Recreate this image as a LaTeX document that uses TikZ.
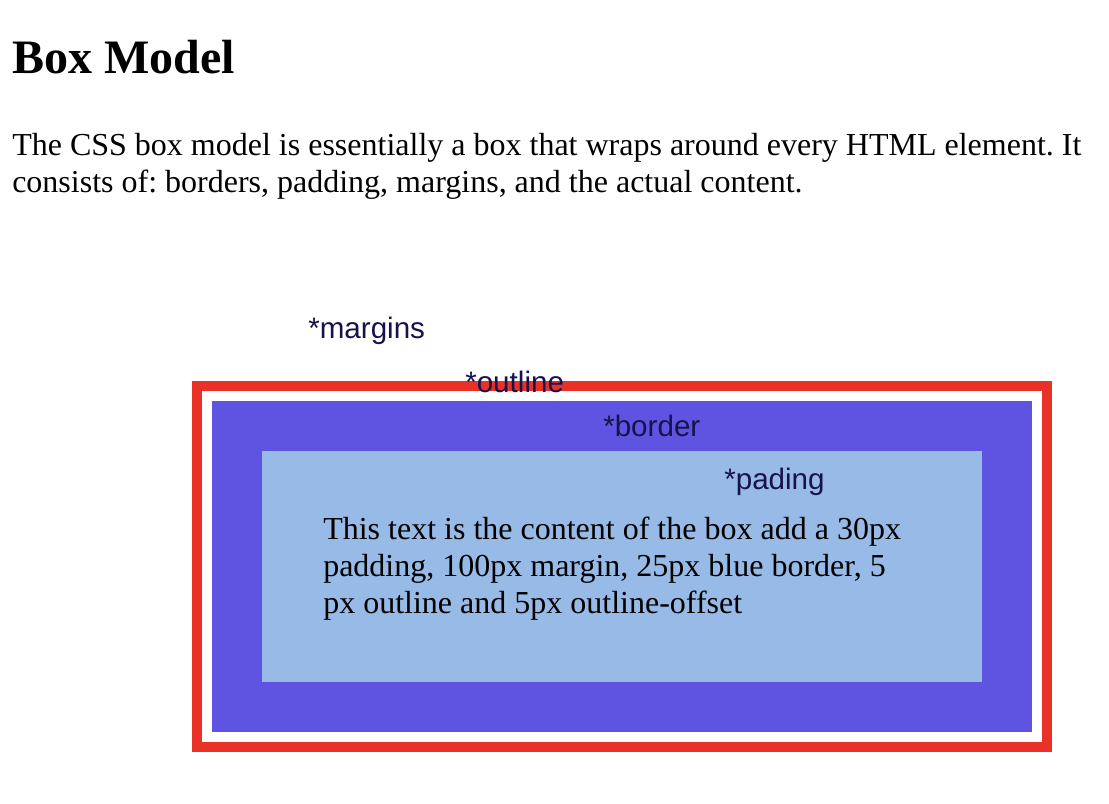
\documentclass[tikz,border=0pt]{standalone}
\usepackage{fontspec}
\setmainfont{Liberation Serif}
\newfontfamily\labelfont{Liberation Sans}
\frenchspacing
\definecolor{outlinered}{RGB}{232,50,40}
\definecolor{borderblue}{RGB}{95,84,226}
\definecolor{padblue}{RGB}{151,186,230}
\definecolor{labelnavy}{RGB}{24,18,76}
\tikzset{
  txt/.style={inner sep=0pt, anchor=base west},
  titletxt/.style={txt, font=\fontsize{36pt}{42pt}\selectfont\bfseries},
  bodytxt/.style={txt, font=\fontsize{24pt}{27.6pt}\selectfont},
  lbl/.style={txt, text=labelnavy, font=\labelfont\fontsize{22.2pt}{26pt}\selectfont},
}
\begin{document}
\begin{tikzpicture}[x=0.75pt,y=-0.75pt]
\useasboundingbox[fill=white] (0,0) rectangle (1109,803);
% title and intro
\node[titletxt] (title) at (12,73) {Box Model};
\node[bodytxt] (intro1) at (12,155) {The CSS box model is essentially a box that wraps around every HTML element. It};
\node[bodytxt] (intro2) at (12,192) {consists of: borders, padding, margins, and the actual content.};
% boxes
\draw[outlinered, line width=7.5pt] (197,386) rectangle (1047,747);
\fill[borderblue] (212,401) rectangle (1032,732);
\fill[padblue] (262,451) rectangle (982,682);
% content
\node[bodytxt] (c1) at (323,539) {This text is the content of the box add a 30px};
\node[bodytxt] (c2) at (323,576) {padding, 100px margin, 25px blue border, 5};
\node[bodytxt] (c3) at (323,613) {px outline and 5px outline-offset};
% labels
\node[lbl] (margins) at (308,338) {*margins};
\node[lbl] (outline) at (465,392) {*outline};
\node[lbl] (border) at (603,436) {*border};
\node[lbl] (pading) at (724,489) {*pading};
\end{tikzpicture}
\end{document}
